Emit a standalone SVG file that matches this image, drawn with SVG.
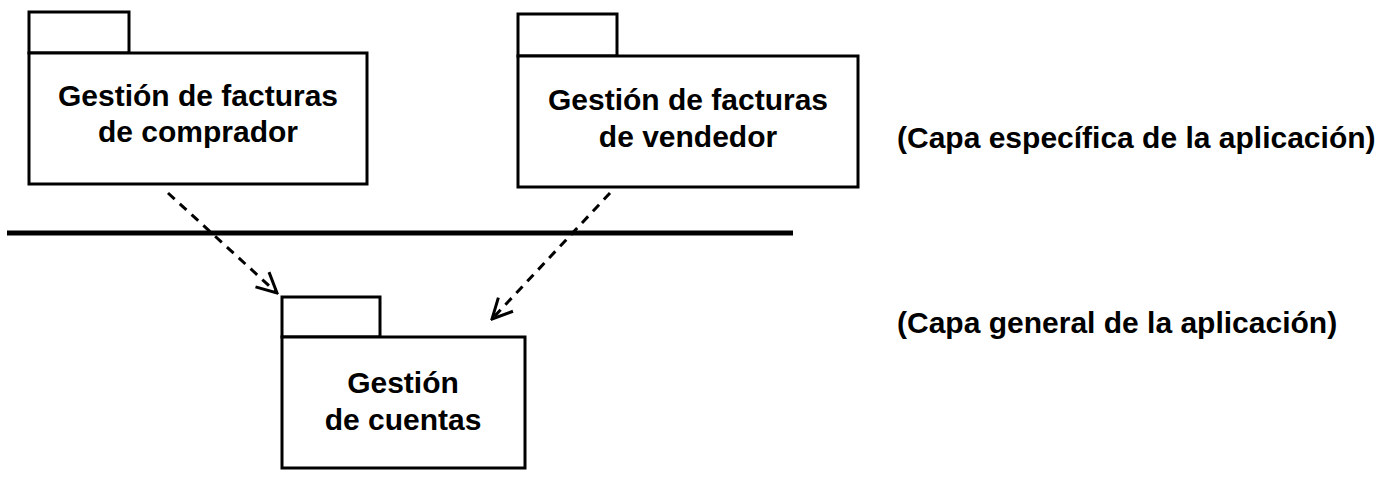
<svg xmlns="http://www.w3.org/2000/svg" width="1394" height="481" viewBox="0 0 1394 481">
  <style>
    .box { fill: #ffffff; stroke: #000000; stroke-width: 3; }
    .lbl { font-family: "Liberation Sans", Arial, Helvetica, sans-serif; font-weight: bold; font-size: 30px; fill: #000000; }
    .dep { fill: none; stroke: #000000; stroke-width: 3; stroke-dasharray: 9 7; }
    .sep { stroke: #000000; stroke-width: 5; }
  </style>
  <defs>
    <marker id="open" viewBox="0 0 12 12" refX="11" refY="6" markerWidth="24" markerHeight="24" markerUnits="userSpaceOnUse" orient="auto">
      <path d="M1,1 L11,6 L1,11" fill="none" stroke="#000000" stroke-width="1.5"/>
    </marker>
  </defs>
  <rect width="1394" height="481" fill="#ffffff"/>

  <g id="pkg-comprador">
    <rect class="box" x="29" y="12" width="100" height="41"/>
    <rect class="box" x="29" y="53" width="338" height="131"/>
    <text class="lbl" x="198" y="106" text-anchor="middle">Gestión de facturas</text>
    <text class="lbl" x="198" y="142" text-anchor="middle">de comprador</text>
  </g>

  <g id="pkg-vendedor">
    <rect class="box" x="518" y="14" width="99" height="42"/>
    <rect class="box" x="518" y="56" width="340" height="131"/>
    <text class="lbl" x="688" y="110" text-anchor="middle">Gestión de facturas</text>
    <text class="lbl" x="688" y="147" text-anchor="middle">de vendedor</text>
  </g>

  <g id="pkg-cuentas">
    <rect class="box" x="282" y="297" width="98" height="40"/>
    <rect class="box" x="282" y="337" width="243" height="131"/>
    <text class="lbl" x="403" y="393" text-anchor="middle">Gestión</text>
    <text class="lbl" x="403" y="430" text-anchor="middle">de cuentas</text>
  </g>

  <g id="separator">
    <line class="sep" x1="7" y1="233" x2="793" y2="233"/>
  </g>

  <g id="layer-labels">
    <text class="lbl" x="897" y="148">(Capa específica de la aplicación)</text>
    <text class="lbl" x="897" y="333">(Capa general de la aplicación)</text>
  </g>

  <g id="connectors">
    <line class="dep" x1="168" y1="193" x2="277" y2="293" marker-end="url(#open)"/>
    <line class="dep" x1="610" y1="193" x2="492" y2="319" marker-end="url(#open)"/>
  </g>
</svg>
